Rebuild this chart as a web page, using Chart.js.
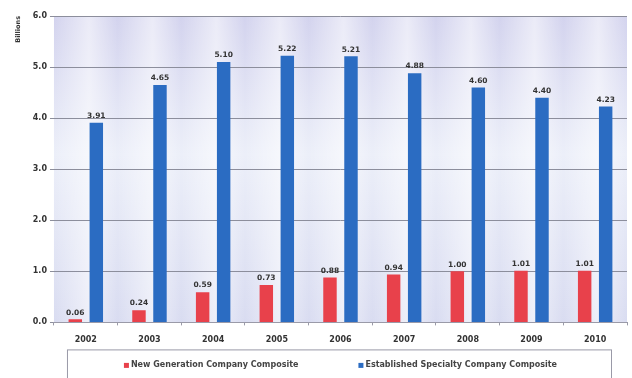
<!DOCTYPE html>
<html>
<head>
<meta charset="utf-8">
<script src="https://cdn.jsdelivr.net/npm/chart.js@4.4.1/dist/chart.umd.min.js"></script>
<style>
  html, body { margin: 0; padding: 0; background: #fff; }
  #wrap { width: 632px; height: 378px; position: relative; }
</style>
</head>
<body>
<div id="wrap"><canvas id="chart"></canvas></div>
<script>
// values (billions)
var years = ['2002', '2003', '2004', '2005', '2006', '2007', '2008', '2009', '2010'];
var newGeneration = [0.06, 0.24, 0.59, 0.73, 0.88, 0.94, 1.00, 1.01, 1.01];
var establishedSpecialty = [3.91, 4.65, 5.10, 5.22, 5.21, 4.88, 4.60, 4.40, 4.23];
var yTicks = [0, 1, 2, 3, 4, 5, 6];

var FONT = '"DejaVu Sans", Verdana, sans-serif';

// plot background: lavender gradient with soft light bands per category
var plotBackground = {
    id: 'plotBackground',
    beforeDraw: function (chart) {
        var ctx = chart.ctx, a = chart.chartArea;
        ctx.save();
        var g = ctx.createLinearGradient(0, a.top, 0, a.bottom);
        g.addColorStop(0, '#d3d3ee');
        g.addColorStop(0.45, '#eceff9');
        g.addColorStop(1, '#d9dcf1');
        ctx.fillStyle = g;
        ctx.fillRect(a.left, a.top, a.right - a.left, a.bottom - a.top);
        var w = (a.right - a.left) / years.length;
        for (var i = 0; i < years.length; i++) {
            var x0 = a.left + i * w;
            var h = ctx.createLinearGradient(x0, 0, x0 + w, 0);
            h.addColorStop(0, 'rgba(255,255,255,0)');
            h.addColorStop(0.55, 'rgba(255,255,255,0.55)');
            h.addColorStop(1, 'rgba(255,255,255,0)');
            ctx.fillStyle = h;
            ctx.fillRect(x0, a.top, w, a.bottom - a.top);
        }
        ctx.restore();
    }
};

// numbers above the bars
var barValues = {
    id: 'barValues',
    afterDatasetsDraw: function (chart) {
        var ctx = chart.ctx;
        ctx.save();
        ctx.font = 'bold 7.5px ' + FONT;
        ctx.fillStyle = '#333333';
        ctx.textAlign = 'center';
        ctx.textBaseline = 'bottom';
        chart.data.datasets.forEach(function (ds, di) {
            chart.getDatasetMeta(di).data.forEach(function (bar, i) {
                ctx.fillText(ds.data[i].toFixed(2), bar.x, bar.y - 3);
            });
        });
        ctx.restore();
    }
};

// boxed legend under the axis, items spread apart
var boxedLegend = {
    id: 'boxedLegend',
    afterDraw: function (chart) {
        var ctx = chart.ctx, a = chart.chartArea;
        var top = a.bottom + 27;
        ctx.save();
        ctx.strokeStyle = '#9a9aa8';
        ctx.lineWidth = 1;
        ctx.strokeRect(a.left + 13.5, top + 0.5, a.right - a.left - 29, chart.height - top + 10);

        ctx.font = 'bold 8px ' + FONT;
        ctx.textBaseline = 'middle';
        ctx.textAlign = 'left';
        var gap = 60, mark = 5, markGap = 2;
        var items = chart.data.datasets.map(function (ds) {
            return { text: ds.label, color: ds.backgroundColor, w: mark + markGap + ctx.measureText(ds.label).width };
        });
        var total = items.reduce(function (s, it) { return s + it.w; }, 0) + gap * (items.length - 1);
        var x = (a.left + a.right) / 2 - total / 2;
        var y = top + 16;
        items.forEach(function (it) {
            ctx.fillStyle = it.color;
            ctx.fillRect(x, y - mark / 2, mark, mark);
            ctx.fillStyle = '#444444';
            ctx.fillText(it.text, x + mark + markGap, y);
            x += it.w + gap;
        });
        ctx.restore();
    }
};

new Chart(document.getElementById('chart').getContext('2d'), {
    type: 'bar',
    data: {
        labels: years,
        datasets: [{
            label: 'New Generation Company Composite',
            data: newGeneration,
            backgroundColor: '#e8414b',
            categoryPercentage: 0.66,
            barPercentage: 0.64
        }, {
            label: 'Established Specialty Company Composite',
            data: establishedSpecialty,
            backgroundColor: '#2b6cc2',
            categoryPercentage: 0.66,
            barPercentage: 0.64
        }]
    },
    options: {
        responsive: true,
        maintainAspectRatio: false,
        animation: false,
        layout: { padding: { top: 16, right: 5, left: 14, bottom: 23 } },
        plugins: {
            tooltip: { enabled: false },
            legend: { display: false }
        },
        scales: {
            x: {
                grid: { display: true, drawOnChartArea: false, tickLength: 3, color: '#9a9aa8' },
                border: { color: '#9a9aa8' },
                ticks: {
                    color: '#333333',
                    padding: 10,
                    font: { family: FONT, size: 8, weight: 'bold' }
                }
            },
            y: {
                min: 0,
                max: 6,
                afterBuildTicks: function (axis) {
                    axis.ticks = yTicks.map(function (v) { return { value: v }; });
                },
                grid: { color: '#8c8e9c', lineWidth: 1, drawTicks: true, tickLength: 4 },
                border: { display: false },
                title: {
                    display: true,
                    text: 'Billions',
                    align: 'end',
                    color: '#333333',
                    padding: { top: 0, bottom: 8 },
                    font: { family: FONT, size: 6.5, weight: 'bold' }
                },
                ticks: {
                    color: '#333333',
                    padding: 3,
                    font: { family: FONT, size: 8, weight: 'bold' },
                    callback: function (v) { return v.toFixed(1); }
                }
            }
        }
    },
    plugins: [plotBackground, barValues, boxedLegend]
});
</script>
</body>
</html>
